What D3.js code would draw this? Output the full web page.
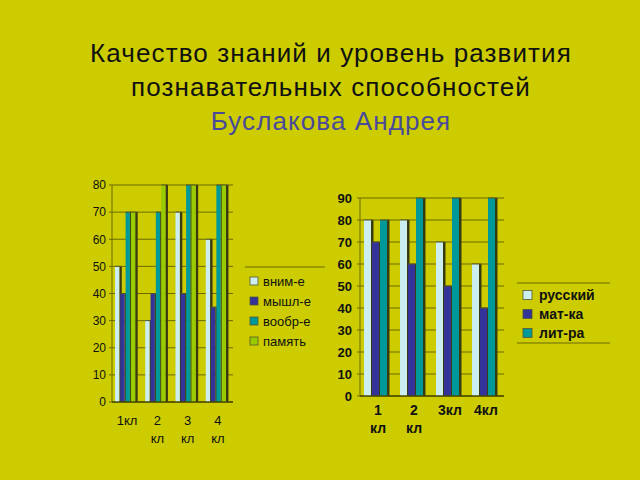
<!DOCTYPE html>
<html><head><meta charset="utf-8">
<script src="https://cdn.jsdelivr.net/npm/d3@7"></script>
<style>body{margin:0;background:#CCCC00;} svg{display:block;}</style>
</head><body>
<script>
// ---- data ----
const titleLines = ["Качество знаний и уровень развития", "познавательных способностей", "Буслакова Андрея"];
const leftCats = [["1кл"], ["2", "кл"], ["3", "кл"], ["4", "кл"]];
const leftSeries = ["вним-е", "мышл-е", "вообр-е", "память"];
const leftVnim = [50, 30, 70, 60];
const leftMyshl = [40, 40, 40, 35];
const leftVoobr = [70, 70, 80, 80];
const leftPamyat = [70, 80, 80, 80];
const leftTicks = [0, 10, 20, 30, 40, 50, 60, 70, 80];

const rightCats = [["1", "кл"], ["2", "кл"], ["3кл"], ["4кл"]];
const rightSeries = ["русский", "мат-ка", "лит-ра"];
const rightRus = [80, 80, 70, 60];
const rightMat = [70, 60, 50, 40];
const rightLit = [80, 90, 90, 90];
const rightTicks = [0, 10, 20, 30, 40, 50, 60, 70, 80, 90];

const colors = ["#CCEEF0", "#333399", "#009999", "#99CC00"];

const W = 640, H = 480;
const svg = d3.select("body").append("svg").attr("width", W).attr("height", H);
svg.append("rect").attr("width", W).attr("height", H).attr("fill", "#CCCC00");

// title
const ty = [62, 96, 130];
titleLines.forEach((t, i) => {
  svg.append("text").attr("x", 331).attr("y", ty[i]).attr("text-anchor", "middle")
    .attr("font-family", "Liberation Sans, Arial, sans-serif").attr("font-size", 26)
    .attr("letter-spacing", "1.1px")
    .attr("fill", i === 2 ? "#4A4A9A" : "#111").text(t);
});

function chart(opts) {
  const {x0, x1, y0, y1, max, ticks, cats, series, data, bold, barW, off, tickX, labelY, fs} = opts;
  const g = svg.append("g");
  const y = d3.scaleLinear().domain([0, max]).range([y0, y1]);
  const xb = d3.scaleBand().domain(d3.range(cats.length)).range([x0, x1]);
  // gridlines
  g.selectAll("line.grid").data(ticks).join("line")
    .attr("x1", x0 - 3).attr("x2", x1).attr("y1", d => y(d)).attr("y2", d => y(d))
    .attr("stroke", "#6B6B00").attr("stroke-width", 1);
  // y axis
  const ax = d3.axisLeft(y).tickValues(ticks).tickSize(0).tickPadding(0);
  const ag = g.append("g").attr("transform", `translate(${tickX},0)`).call(ax);
  ag.select(".domain").remove();
  ag.selectAll("text").attr("font-family", "Liberation Sans, Arial, sans-serif")
    .attr("font-size", fs).attr("font-weight", bold ? "bold" : "normal").attr("fill", "#111");
  g.append("line").attr("x1", x0).attr("x2", x0).attr("y1", y1).attr("y2", y0)
    .attr("stroke", "#6B6B00");
  // bars
  data.forEach((vals, s) => {
    vals.forEach((v, i) => {
      const bx = xb(i) + off + s * barW;
      const top = y(v);
      g.append("rect").attr("x", bx + barW - 1).attr("y", top).attr("width", 2.5)
        .attr("height", y0 - top).attr("fill", "#3A3A10");
      g.append("rect").attr("x", bx).attr("y", top).attr("width", barW - 1)
        .attr("height", y0 - top).attr("fill", colors[s]);
      g.append("line").attr("x1", bx).attr("x2", bx + barW + 1).attr("y1", top).attr("y2", top)
        .attr("stroke", "#555522").attr("stroke-width", 1);
    });
  });
  g.append("line").attr("x1", x0).attr("x2", x1).attr("y1", y0).attr("y2", y0)
    .attr("stroke", "#4A4A00").attr("stroke-width", 1.5);
  cats.forEach((c, i) => {
    c.forEach((t, k) => {
      g.append("text").attr("x", xb(i) + xb.bandwidth() / 2).attr("y", labelY + k * 18)
        .attr("text-anchor", "middle").attr("font-family", "Liberation Sans, Arial, sans-serif")
        .attr("font-size", fs + 1).attr("font-weight", bold ? "bold" : "normal").attr("fill", "#111").text(t);
    });
  });
}

chart({x0: 112, x1: 233, y0: 402, y1: 185, max: 80, ticks: leftTicks, cats: leftCats,
  series: leftSeries, data: [leftVnim, leftMyshl, leftVoobr, leftPamyat], bold: false,
  barW: 5.3, off: 3, tickX: 106, labelY: 425, fs: 12});
chart({x0: 360, x1: 504, y0: 396, y1: 198, max: 90, ticks: rightTicks, cats: rightCats,
  series: rightSeries, data: [rightRus, rightMat, rightLit], bold: true,
  barW: 8, off: 4, tickX: 352, labelY: 415, fs: 13});

svg.append("line").attr("x1", 245).attr("x2", 325).attr("y1", 267).attr("y2", 267).attr("stroke", "#6B6B00");
leftSeries.forEach((s, i) => {
  const cy = 281 + i * 20;
  svg.append("rect").attr("x", 250).attr("y", cy - 4).attr("width", 8).attr("height", 8)
    .attr("fill", colors[i]).attr("stroke", "#555533").attr("stroke-width", 0.8);
  svg.append("text").attr("x", 263).attr("y", cy + 5).attr("font-family", "Liberation Sans, Arial, sans-serif")
    .attr("font-size", 13).attr("fill", "#111").text(s);
});
svg.append("line").attr("x1", 517).attr("x2", 610).attr("y1", 283).attr("y2", 283).attr("stroke", "#6B6B00");
svg.append("line").attr("x1", 517).attr("x2", 610).attr("y1", 343).attr("y2", 343).attr("stroke", "#6B6B00");
rightSeries.forEach((s, i) => {
  const cy = 295 + i * 19;
  svg.append("rect").attr("x", 523).attr("y", cy - 4.5).attr("width", 9).attr("height", 9)
    .attr("fill", colors[i]).attr("stroke", "#555533").attr("stroke-width", 0.8);
  svg.append("text").attr("x", 539).attr("y", cy + 5).attr("font-family", "Liberation Sans, Arial, sans-serif")
    .attr("font-size", 14).attr("font-weight", "bold").attr("fill", "#111").text(s);
});
</script>
</body></html>
